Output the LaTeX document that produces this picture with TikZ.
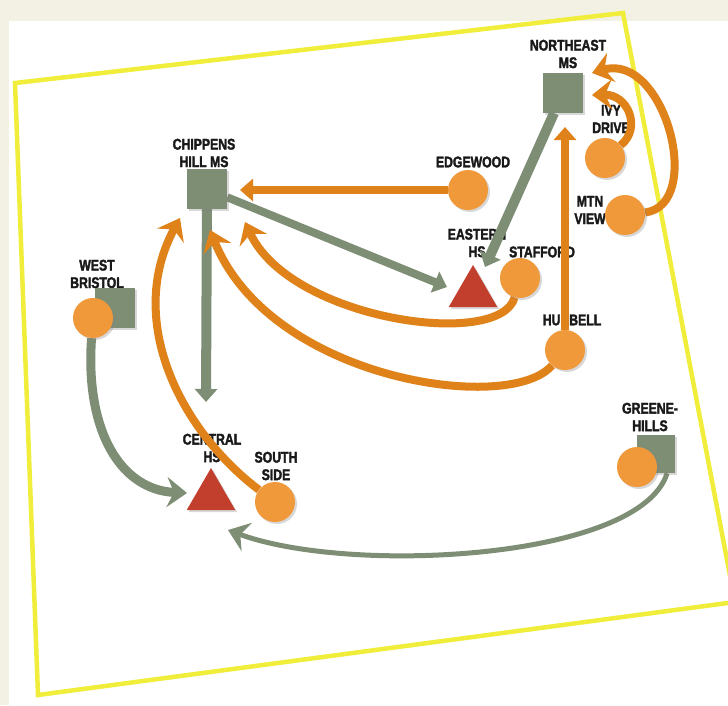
\documentclass[tikz,border=0pt]{standalone}
\usepackage{fontspec}
\newfontfamily\nhanfont{Liberation Sans}[FakeStretch=0.79,BoldFeatures={FakeBold=2}]
\usetikzlibrary{arrows.meta,shapes.geometric,shadows}
\definecolor{cam}{HTML}{E0821A}
\definecolor{camnhat}{HTML}{F0993A}
\definecolor{xanh}{HTML}{7E8E75}
\definecolor{do}{HTML}{C23F2E}
\definecolor{vang}{HTML}{F0EE3A}
\definecolor{be}{HTML}{F3F0E4}
\pgfdeclarelayer{nen}
\pgfdeclarelayer{chu}
\pgfdeclarelayer{duong}
\pgfsetlayers{nen,chu,duong,main}
\begin{document}
\begin{tikzpicture}[x=1pt,y=-1pt,line join=round,font=\nhanfont\bfseries\fontsize{15.5}{17.5}\selectfont]
		\tikzset{bong/.style={drop shadow={shadow xshift=2pt,shadow yshift=-2pt,opacity=0.3}},
			vuong/.style={fill=xanh,minimum size=40pt,inner sep=0pt,bong},
			tron/.style={circle,fill=camnhat,minimum size=40pt,inner sep=0pt,bong},
			tamgiac/.style={regular polygon,regular polygon sides=3,fill=do,minimum size=56pt,inner sep=0pt,bong},
			nhan/.style={align=center,text=black!90,inner sep=0pt},
			muicam/.style={draw=cam,line width=8pt,-{Stealth[length=20pt,width=30pt,inset=7pt]}},
			muixanh/.style={draw=xanh,line width=9pt,-{Stealth[length=20pt,width=30pt,inset=7pt]}},
			dauthang/.style={-{Triangle[length=13pt,width=22pt]}}}
		\useasboundingbox (0,0) rectangle (728,705);
		%%%%Khung
		\begin{pgfonlayer}{nen}
			\clip (0,0) rectangle (728,705);
			\fill[be] (0,0) rectangle (728,705);
			\fill[white] (9,21) rectangle (728,705);
			\draw[vang,line width=4.5pt,line join=miter] (15,83) -- (623,13) -- (735,602) -- (38,695) -- cycle;
		\end{pgfonlayer}
		%%%%Truong
		\node[vuong] (ne) at (563,93) {};
		\node[vuong] (chippens) at (207,189) {};
		\node[vuong] (wbvuong) at (115,308) {};
		\node[vuong,minimum size=38pt] (ghvuong) at (656,454) {};
		\node[tron] (wb) at (93,318) {};
		\node[tron] (gh) at (637,467) {};
		\node[tron] (ivy) at (605,158) {};
		\node[tron] (mtn) at (625,215) {};
		\node[tron] (edgewood) at (468,190) {};
		\node[tron] (stafford) at (520,278) {};
		\node[tron] (hubbell) at (565,350) {};
		\node[tron] (southside) at (275,502) {};
		\node[tamgiac] (eastern) at (473,293) {};
		\node[tamgiac] (central) at (211,496) {};
		%%%%Nhan
		\begin{pgfonlayer}{chu}
			\node[nhan] (nne) at (568,54) {NORTHEAST\\MS};
			\node[nhan] (nchip) at (204,153) {CHIPPENS\\HILL MS};
			\node[nhan] (nedge) at (473,162) {EDGEWOOD};
			\node[nhan] (neast) at (477,243) {EASTERN\\HS};
			\node[nhan] (nstaf) at (542,252) {STAFFORD};
			\node[nhan] (nivy) at (611,119) {IVY\\DRIVE};
			\node[nhan] (nmtn) at (590,210) {MTN\\VIEW};
			\node[nhan] (nhub) at (572,320) {HUBBELL};
			\node[nhan] (ngh) at (650,417) {GREENE-\\HILLS};
			\node[nhan] (nwb) at (97,274) {WEST\\BRISTOL};
			\node[nhan] (ncent) at (212,448) {CENTRAL\\HS};
			\node[nhan] (nss) at (276,466) {SOUTH\\SIDE};
		\end{pgfonlayer}
		%%%%Mui ten
		\begin{pgfonlayer}{duong}
			\draw[muixanh,dauthang,line width=10pt] (chippens) -- ([shift={(-5,-94)}]central.center);
			\draw[muixanh,dauthang,line width=8pt] (chippens) -- ([shift={(-26,-6)}]eastern.center);
			\draw[muixanh,dauthang,line width=10pt] (ne) -- ([shift={(12,-26)}]eastern.center);
			\draw[muixanh] (wb) .. controls (85,430) and (120,490) .. ([shift={(-24,-3)}]central.center);
			\draw[muixanh,line width=5pt] (ghvuong.-60) .. controls (640,560) and (350,575) .. ([shift={(17,34)}]central.center);
			\draw[muicam,dauthang] (edgewood) -- ([shift={(33,1)}]chippens.center);
			\draw[muicam,dauthang,line width=8pt] (hubbell) -- ([shift={(2,34)}]ne.center);
			\draw[muicam] (ivy) .. controls (642,128) and (628,94) .. ([shift={(29,2)}]ne.center);
			\draw[muicam] (mtn) .. controls (705,205) and (665,52) .. ([shift={(29,-20)}]ne.center);
			\draw[muicam] (hubbell) .. controls (510,415) and (270,380) .. ([shift={(3,41)}]chippens.center);
			\draw[muicam] (stafford) .. controls (500,350) and (290,320) .. ([shift={(38,33)}]chippens.center);
			\draw[muicam] (southside) .. controls (180,430) and (125,320) .. ([shift={(-27,29)}]chippens.center);
		\end{pgfonlayer}
\end{tikzpicture}
\end{document}
